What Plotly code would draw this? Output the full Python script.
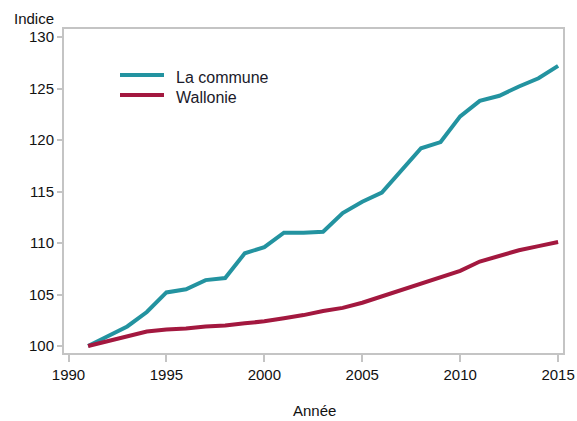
import plotly.graph_objects as go

# Index series (base 100 in 1991)
annees = list(range(1991, 2016))
la_commune = [100.0, 101.0, 101.9, 103.3, 105.2, 105.5, 106.4, 106.6, 109.0, 109.6,
              111.0, 111.0, 111.1, 112.9, 114.0, 114.9, 117.1, 119.2, 119.8, 122.3,
              123.8, 124.3, 125.2, 126.0, 127.2]
wallonie = [100.0, 100.5, 101.0, 101.4, 101.6, 101.7, 101.9, 102.0, 102.2, 102.4,
            102.7, 103.0, 103.4, 103.7, 104.2, 104.8, 105.4, 106.1, 106.6, 107.3,
            108.2, 108.8, 109.3, 109.7, 110.1]
series_names = ["La commune", "Wallonie"]

x_ticks = [1990, 1995, 2000, 2005, 2010, 2015]
y_ticks = [100, 105, 110, 115, 120, 125, 130]

TEAL = "#2393a0"
CRIMSON = "#a3183f"
FRAME = "#c4c4c4"
TEXT = "#111111"
FONT = "Liberation Sans, Arial, sans-serif"

W, H = 577, 421
ML, MR, MT, MB = 64, 14, 29, 68
PW, PH = W - ML - MR, H - MT - MB


def px_x(px):
    """Convert a pixel column to plot-area paper coordinates."""
    return (px - ML) / PW


def px_y(py):
    """Convert a pixel row to plot-area paper coordinates."""
    return 1 - (py - MT) / PH


fig = go.Figure()
for name, values, color in zip(series_names, [la_commune, wallonie], [TEAL, CRIMSON]):
    fig.add_trace(go.Scatter(x=annees, y=values, mode="lines", name=name,
                             line=dict(color=color, width=4), showlegend=False))

axis_common = dict(showgrid=False, zeroline=False, showline=True, mirror=True,
                   linecolor=FRAME, linewidth=2, ticks="outside", tickcolor=FRAME,
                   tickwidth=2, automargin=False,
                   tickfont=dict(family=FONT, size=15, color=TEXT))

# Legend drawn as short line samples with labels
shapes, annotations = [], []
for i, (name, color) in enumerate(zip(series_names, [TEAL, CRIMSON])):
    row = 75 + i * 20
    shapes.append(dict(type="line", xref="paper", yref="paper",
                       x0=px_x(120), x1=px_x(164), y0=px_y(row), y1=px_y(row),
                       line=dict(color=color, width=4)))
    annotations.append(dict(text=name, xref="paper", yref="paper", showarrow=False,
                            x=px_x(174), y=px_y(row + 2), xanchor="left", yanchor="middle",
                            font=dict(family=FONT, size=16, color="#1a1a2a")))

annotations.append(dict(text="Indice", xref="paper", yref="paper", showarrow=False,
                        x=px_x(12), y=px_y(18), xanchor="left", yanchor="middle",
                        font=dict(family=FONT, size=15, color=TEXT)))
annotations.append(dict(text="Année", xref="paper", yref="paper", showarrow=False,
                        x=px_x(314), y=px_y(411), xanchor="center", yanchor="middle",
                        font=dict(family=FONT, size=15, color=TEXT)))

fig.update_layout(
    width=W, height=H,
    margin=dict(l=ML, r=MR, t=MT, b=MB),
    paper_bgcolor="white", plot_bgcolor="white",
    font=dict(family=FONT, size=15, color=TEXT),
    xaxis=dict(range=[1989.77, 2015.25], tickvals=x_ticks, ticklen=7, **axis_common),
    yaxis=dict(range=[99.32, 130.78], tickvals=y_ticks, ticklen=5, **axis_common),
    shapes=shapes,
    annotations=annotations,
)

fig.write_html("out.html")
